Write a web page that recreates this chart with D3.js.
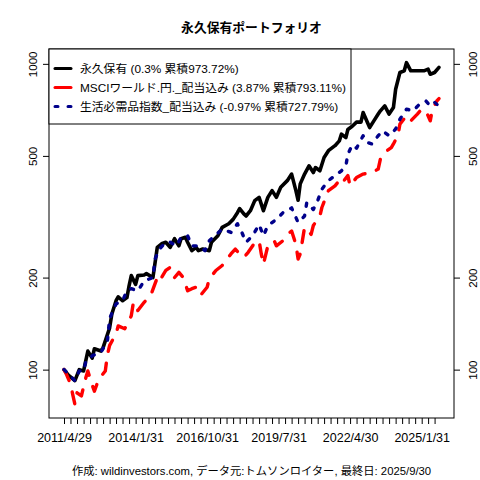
<!DOCTYPE html>
<html>
<head>
<meta charset="utf-8">
<script src="https://cdn.jsdelivr.net/npm/d3@7"></script>
<style>
  body { margin: 0; background: #fff; }
  svg text { font-family: "Liberation Sans", Arial, "Noto Sans CJK JP", sans-serif; fill: #000; }
</style>
</head>
<body>
<div id="chart"></div>
<script>
/* DATA */
// [months since 2011/4, value]
const startMonth = "2011-04";
const endMonth = "2025-09";

const permanent = [[0,100],[2,96],[5,92],[7,100],[9,99],[11,115],[13,109],[14,117],[17,115],[18,118],[21,137],[22,152],[24,168],[25,173],[27,168],[29,172],[30,188],[31,203],[33,190],[34,203],[37,204],[38,206],[41,200],[43,251],[45,258],[47,261],[49,251],[51,268],[53,254],[54,268],[56,271],[57,261],[59,245],[61,251],[62,245],[64,248],[67,245],[68,261],[71,274],[73,292],[76,300],[78,310],[80,326],[81,336],[83,323],[84,318],[86,331],[88,357],[90,366],[92,331],[94,366],[96,385],[98,366],[100,395],[103,415],[105,436],[107,385],[108,358],[109,405],[111,436],[113,464],[115,441],[116,458],[118,447],[120,494],[122,520],[125,540],[127,560],[128,589],[130,574],[131,610],[133,625],[135,645],[137,645],[138,693],[141,619],[143,651],[145,685],[146,702],[148,729],[150,685],[152,720],[153,826],[155,937],[157,949],[158,1009],[160,949],[163,949],[166,949],[168,961],[169,925],[171,937],[173,974]];

const msciWorld = [[0,100],[1,97],[3,90],[4,83],[5,77],[6,84],[8,82],[10,94],[11,99],[13,89],[14,85],[16,93],[19,99],[20,112],[21,120],[24,131],[25,139],[28,136],[31,150],[32,166],[34,156],[37,166],[40,175],[42,191],[43,200],[44,195],[47,211],[49,216],[51,200],[53,208],[55,200],[57,181],[59,184],[61,186],[63,175],[66,186],[67,198],[70,211],[73,219],[77,239],[79,248],[81,239],[83,233],[85,242],[88,260],[90,264],[91,239],[92,221],[94,254],[97,264],[98,254],[101,264],[103,277],[105,284],[107,257],[108,230],[109,239],[111,292],[114,277],[115,296],[118,318],[119,339],[122,385],[125,399],[127,415],[128,405],[131,431],[132,399],[135,425],[138,436],[142,441],[145,453],[146,488],[148,513],[149,520],[151,532],[152,547],[154,582],[155,635],[158,676],[160,651],[163,685],[165,711],[167,702],[169,651],[170,711],[172,756],[173,770]];

const staples = [[0,100],[2,97],[5,92],[7,99],[9,99],[10,106],[12,109],[13,111],[17,114],[20,124],[21,147],[24,164],[27,168],[29,181],[31,184],[34,181],[37,195],[41,200],[42,230],[44,248],[47,261],[49,261],[52,254],[54,271],[57,274],[59,254],[62,254],[65,245],[67,264],[73,288],[77,281],[80,300],[82,281],[84,261],[87,274],[90,298],[92,274],[94,296],[98,310],[101,326],[105,338],[108,303],[111,318],[112,352],[115,334],[117,357],[119,389],[122,415],[125,431],[128,447],[130,464],[131,507],[133,543],[135,530],[138,582],[140,553],[142,547],[145,582],[147,604],[150,582],[153,612],[155,659],[158,711],[161,702],[164,738],[167,756],[169,729],[171,748],[173,728]];

const seriesNames = [
  "永久保有 (0.3% 累積973.72%)",
  "MSCIワールド.円._配当込み (3.87% 累積793.11%)",
  "生活必需品指数_配当込み (-0.97% 累積727.79%)"
];
const yTicks = [100, 200, 500, 1000];
const tickLabels = ["2011/4/29", "2014/1/31", "2016/10/31", "2019/7/31", "2022/4/30", "2025/1/31"];
const title = "永久保有ポートフォリオ";
const footer = "作成: wildinvestors.com, データ元:トムソンロイター, 最終日: 2025/9/30";

/* CONSTANTS */
const width = 480,
  height = 480,
  margin = { top: 49, bottom: 62, left: 49, right: 26 };

const parseMonth = d3.timeParse("%Y-%m");
const start = parseMonth(startMonth);
const end = parseMonth(endMonth);
const toDate = m => d3.timeMonth.offset(start, m);

const styles = [
  { data: permanent, color: "#000000", dash: null, legendDash: null, width: 3.6 },
  { data: msciWorld, color: "#ff0000", dash: "12,12", legendDash: null, width: 3.4 },
  { data: staples, color: "#00008b", dash: "3,9", legendDash: "3,10", width: 3.4 }
];

/* SCALES */
// pad by 4% like R does
const tSpan = end - start;
const xScale = d3.scaleTime()
  .domain([new Date(+start - tSpan * 0.04), new Date(+end + tSpan * 0.04)])
  .range([margin.left, width - margin.right]);

const allVals = permanent.concat(msciWorld, staples).map(d => d[1]);
const lo = Math.log10(d3.min(allVals)), hi = Math.log10(d3.max(allVals));
const pad = (hi - lo) * 0.04;
const yScale = d3.scaleLog()
  .domain([Math.pow(10, lo - pad), Math.pow(10, hi + pad)])
  .range([height - margin.bottom, margin.top]);

const svg = d3.select("#chart").append("svg")
  .attr("width", width)
  .attr("height", height);

/* AXES */
const qTicks = d3.timeMonth.every(3).range(start, d3.timeMonth.offset(end, 1));
const xAxis = d3.axisBottom(xScale)
  .tickValues(qTicks)
  .tickSize(6)
  .tickFormat((d, i) => i % 11 === 0 ? tickLabels[i / 11] : "");

svg.append("g")
  .attr("class", "axis x-axis")
  .attr("transform", `translate(0, ${height - margin.bottom})`)
  .call(xAxis)
  .call(g => g.select(".domain").remove())
  .call(g => g.selectAll("text").attr("y", 15).attr("dy", "0.71em").attr("font-size", 12.5));

svg.append("g")
  .attr("class", "axis y-axis")
  .attr("transform", `translate(${margin.left}, 0)`)
  .call(d3.axisLeft(yScale).tickValues(yTicks).tickSize(6).tickFormat(d3.format("d")))
  .call(g => g.select(".domain").remove())
  .call(g => g.selectAll("text")
    .attr("transform", "rotate(-90)")
    .attr("x", 0).attr("y", -12).attr("dy", 0)
    .attr("text-anchor", "middle")
    .attr("font-size", 11.5));

svg.append("g")
  .attr("class", "axis y-axis-right")
  .attr("transform", `translate(${width - margin.right}, 0)`)
  .call(d3.axisRight(yScale).tickValues(yTicks).tickSize(6).tickFormat(d3.format("d")))
  .call(g => g.select(".domain").remove())
  .call(g => g.selectAll("text")
    .attr("transform", "rotate(-90)")
    .attr("x", 0).attr("y", 23).attr("dy", 0)
    .attr("text-anchor", "middle")
    .attr("font-size", 11.5));

svg.selectAll(".axis line").attr("stroke", "#000");

/* LINES */
const line = d3.line()
  .x(d => xScale(toDate(d[0])))
  .y(d => yScale(d[1]));

svg.selectAll(".series")
  .data(styles)
  .join("path")
  .attr("class", "series")
  .attr("d", d => line(d.data))
  .attr("fill", "none")
  .attr("stroke", d => d.color)
  .attr("stroke-width", d => d.width)
  .attr("stroke-dasharray", d => d.dash)
  .attr("stroke-linecap", "round")
  .attr("stroke-linejoin", "round");

/* BOX */
svg.append("rect")
  .attr("x", margin.left)
  .attr("y", margin.top)
  .attr("width", width - margin.left - margin.right)
  .attr("height", height - margin.top - margin.bottom)
  .attr("fill", "none")
  .attr("stroke", "#000");

/* LEGEND */
const legend = svg.append("g").attr("class", "legend");
legend.append("rect")
  .attr("x", margin.left)
  .attr("y", margin.top)
  .attr("width", 302)
  .attr("height", 75)
  .attr("fill", "#fff")
  .attr("stroke", "#000");

const rows = legend.selectAll(".row")
  .data(styles)
  .join("g")
  .attr("class", "row")
  .attr("transform", (d, i) => `translate(${margin.left}, ${68.5 + i * 19})`);

rows.append("line")
  .attr("x1", 6).attr("x2", 22)
  .attr("stroke", d => d.color)
  .attr("stroke-width", 3)
  .attr("stroke-dasharray", d => d.legendDash)
  .attr("stroke-linecap", "round");

rows.append("text")
  .attr("x", 31)
  .attr("dy", "0.36em")
  .attr("font-size", 11.8)
  .text((d, i) => seriesNames[i]);

/* TITLES */
svg.append("text")
  .attr("x", (margin.left + width - margin.right) / 2)
  .attr("y", 32)
  .attr("text-anchor", "middle")
  .attr("font-size", 12.8)
  .attr("font-weight", "bold")
  .text(title);

svg.append("text")
  .attr("x", (margin.left + width - margin.right) / 2)
  .attr("y", 475)
  .attr("text-anchor", "middle")
  .attr("font-size", 11.3)
  .text(footer);
</script>
</body>
</html>
